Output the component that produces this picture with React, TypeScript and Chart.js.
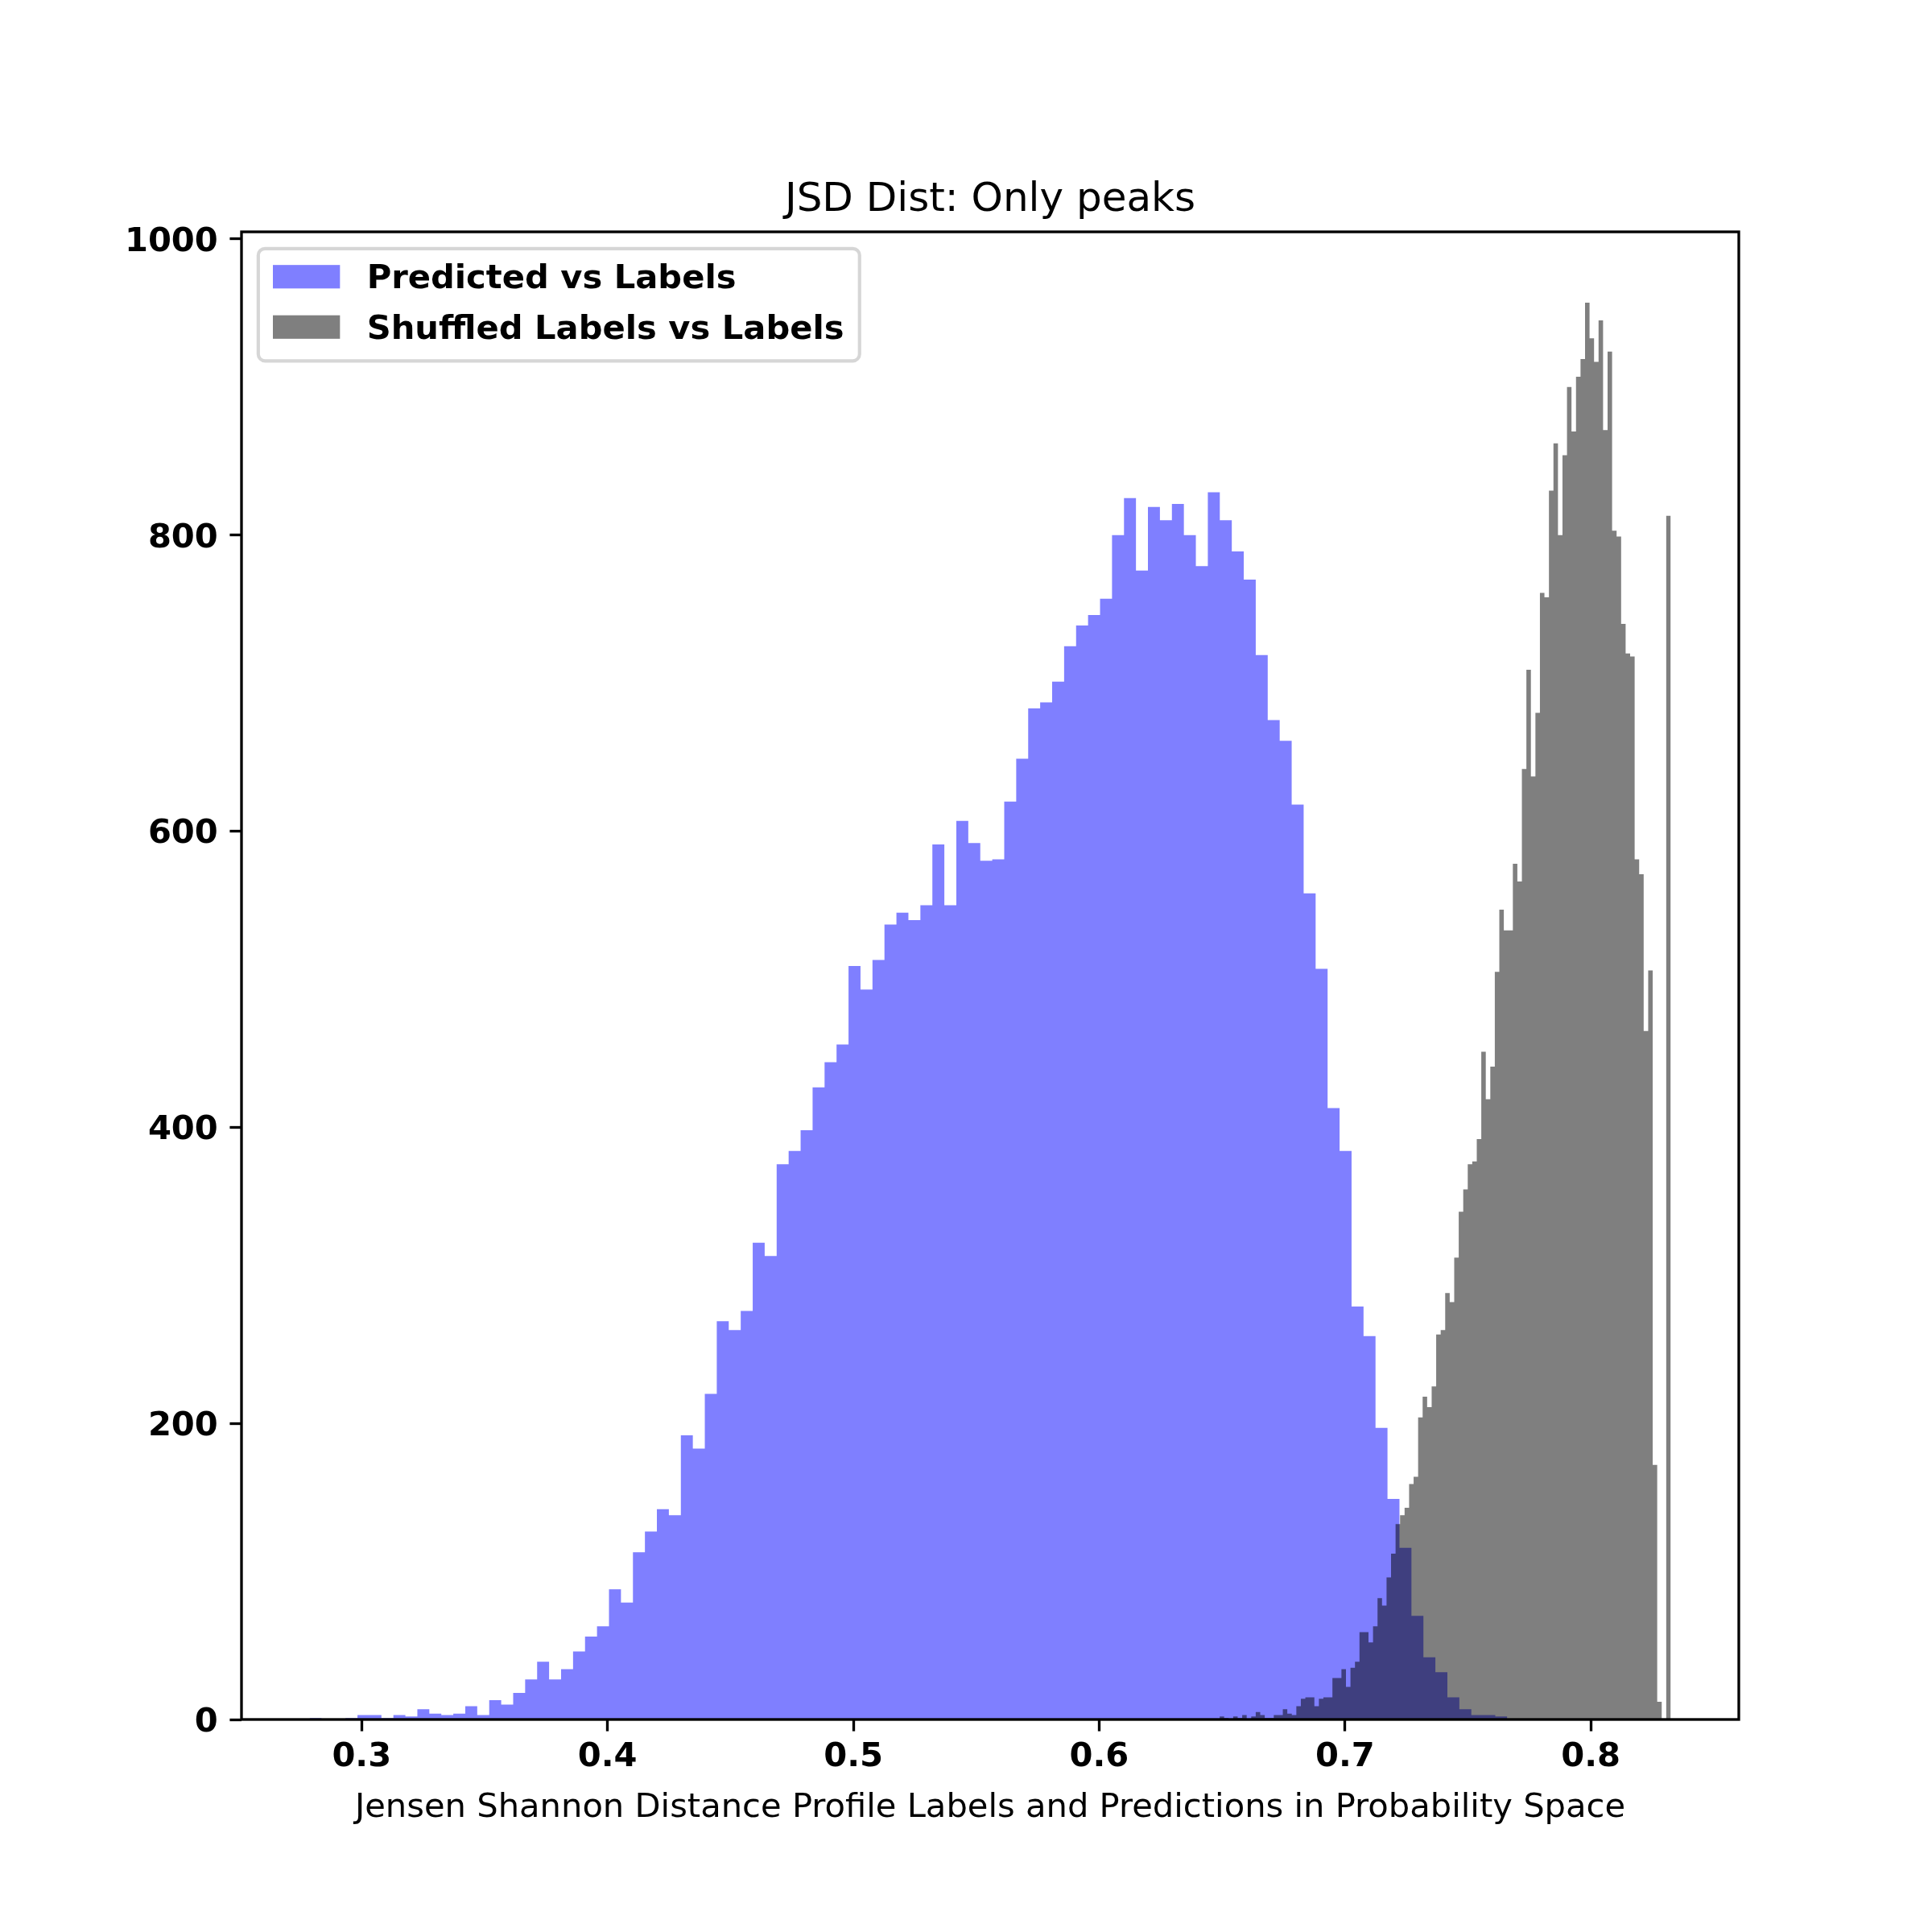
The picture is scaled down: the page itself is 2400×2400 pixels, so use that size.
import React, { useEffect, useRef } from 'react';
import { Chart, registerables } from 'chart.js';

Chart.register(...registerables);

// ---------------- data ----------------
const seriesLabels = ['Predicted vs Labels', 'Shuffled Labels vs Labels'];

// 100 equal-width bins between the two range values
const predictedBinRange = [0.2788, 0.766];
const predictedCounts = [
  1, 0, 0, 1, 3, 3, 1, 3, 2, 7,
  4, 3, 4, 9, 3, 13, 10, 18, 27, 39,
  27, 34, 46, 56, 63, 88, 79, 113, 127, 142,
  138, 192, 183, 220, 269, 263, 276, 322, 313, 375,
  384, 398, 427, 444, 456, 509, 493, 513, 537, 545,
  540, 550, 591, 550, 607, 592, 580, 581, 620, 649,
  683, 687, 701, 725, 739, 746, 757, 800, 825, 776,
  819, 810, 821, 800, 779, 829, 810, 789, 770, 719,
  675, 661, 618, 558, 507, 413, 384, 279, 259, 197,
  149, 116, 70, 42, 32, 15, 7, 3, 3, 2,
];

const shuffledBinRange = [0.649, 0.8325];
const shuffledCounts = [
  2, 1, 0, 2, 1, 3, 0, 2, 5, 3,
  1, 1, 3, 3, 7, 4, 3, 9, 14, 15,
  15, 9, 14, 15, 15, 28, 28, 34, 22, 35,
  39, 59, 59, 52, 63, 82, 77, 96, 112, 132,
  138, 143, 159, 164, 204, 218, 211, 225, 260, 263,
  288, 282, 312, 343, 358, 375, 377, 392, 451, 419,
  441, 505, 547, 533, 533, 578, 566, 642, 709, 637,
  680, 761, 758, 830, 862, 800, 854, 900, 870, 907,
  919, 957, 933, 917, 945, 871, 924, 803, 799, 740,
  720, 718, 581, 571, 465, 506, 172, 12, 0, 813,
];

const xTickValues = [0.3, 0.4, 0.5, 0.6, 0.7, 0.8];
const yTickValues = [0, 200, 400, 600, 800, 1000];

const titleText = 'JSD Dist: Only peaks';
const xAxisLabel = 'Jensen Shannon Distance Profile Labels and Predictions in Probability Space';

// ---------------- helpers ----------------
function histogramSteps(counts: number[], range: number[]) {
  const [lo, hi] = range;
  const n = counts.length;
  const w = (hi - lo) / n;
  const pts = counts.map((c, i) => ({ x: lo + w * i, y: c }));
  pts.push({ x: hi, y: counts[n - 1] });
  return pts;
}

const PT = 300 / 72; // px per point
const FAMILY = '"DejaVu Sans"';
const TICK_FS = 10 * PT;
const TITLE_FS = 12 * PT;

const dataMin = Math.min(predictedBinRange[0], shuffledBinRange[0]);
const dataMax = Math.max(predictedBinRange[1], shuffledBinRange[1]);
const xSpan = dataMax - dataMin;
const xMin = dataMin - 0.05 * xSpan;
const xMax = dataMax + 0.05 * xSpan;
const yMax = Math.max(...predictedCounts, ...shuffledCounts) * 1.05;

const framePlugin = {
  id: 'mplFrame',
  afterDraw(chart: any) {
    const { ctx, chartArea: ca } = chart;
    ctx.save();
    // spines
    ctx.strokeStyle = '#000';
    ctx.lineWidth = 0.8 * PT;
    ctx.lineJoin = 'miter';
    ctx.strokeRect(ca.left, ca.top, ca.right - ca.left, ca.bottom - ca.top);

    // legend
    const fs = TICK_FS;
    ctx.font = `bold ${fs}px ${FAMILY}`;
    const textW = Math.max(...seriesLabels.map((t) => ctx.measureText(t).width));
    const left = ca.left + 0.5 * fs;
    const top = ca.top + 0.5 * fs;
    const borderPad = 0.4 * fs;
    const handleLen = 2.0 * fs;
    const handleH = 0.7 * fs;
    const handleTextPad = 0.8 * fs;
    const boxW = borderPad + handleLen + handleTextPad + textW + borderPad + 4;
    const boxH = 139.5;
    const r = 0.2 * fs;
    ctx.beginPath();
    ctx.moveTo(left + r, top);
    ctx.lineTo(left + boxW - r, top);
    ctx.arcTo(left + boxW, top, left + boxW, top + r, r);
    ctx.lineTo(left + boxW, top + boxH - r);
    ctx.arcTo(left + boxW, top + boxH, left + boxW - r, top + boxH, r);
    ctx.lineTo(left + r, top + boxH);
    ctx.arcTo(left, top + boxH, left, top + boxH - r, r);
    ctx.lineTo(left, top + r);
    ctx.arcTo(left, top, left + r, top, r);
    ctx.closePath();
    ctx.fillStyle = 'rgba(255,255,255,0.8)';
    ctx.fill();
    ctx.strokeStyle = 'rgba(204,204,204,0.8)';
    ctx.lineWidth = 1.0 * PT;
    ctx.stroke();

    const colors = ['rgba(0,0,255,0.5)', 'rgba(0,0,0,0.5)'];
    const baselines = [top + 49.5, top + 112];
    const hx = left + borderPad + 1.5;
    seriesLabels.forEach((label, i) => {
      ctx.fillStyle = colors[i];
      ctx.fillRect(hx, baselines[i] - handleH, handleLen, handleH);
      ctx.fillStyle = '#000';
      ctx.textAlign = 'left';
      ctx.textBaseline = 'alphabetic';
      ctx.fillText(label, hx + handleLen + handleTextPad, baselines[i]);
    });
    ctx.restore();
  },
};

export default function App() {
  const ref = useRef<HTMLCanvasElement | null>(null);

  useEffect(() => {
    if (!ref.current) return;
    const tickFont = { family: FAMILY, size: TICK_FS, weight: 'bold' as const };
    const chart = new Chart(ref.current, {
      type: 'line',
      data: {
        datasets: [
          {
            label: seriesLabels[0],
            data: histogramSteps(predictedCounts, predictedBinRange),
            stepped: true,
            fill: 'origin',
            backgroundColor: 'rgba(0,0,255,0.5)',
            borderColor: 'rgba(0,0,0,0)',
            borderWidth: 0,
            pointRadius: 0,
            order: 1,
          },
          {
            label: seriesLabels[1],
            data: histogramSteps(shuffledCounts, shuffledBinRange),
            stepped: true,
            fill: 'origin',
            backgroundColor: 'rgba(0,0,0,0.5)',
            borderColor: 'rgba(0,0,0,0)',
            borderWidth: 0,
            pointRadius: 0,
            order: 0,
          },
        ],
      } as any,
      options: {
        animation: false,
        responsive: false,
        devicePixelRatio: 1,
        events: [],
        layout: { padding: { left: 0, top: 0, right: 240, bottom: 0 } },
        plugins: {
          legend: { display: false },
          tooltip: { enabled: false },
          title: {
            display: true,
            fullSize: false,
            text: titleText,
            color: '#000',
            font: { family: FAMILY, size: TITLE_FS, weight: 'normal' },
            padding: { top: 219, bottom: 9 },
          },
        },
        scales: {
          x: {
            type: 'linear',
            min: xMin,
            max: xMax,
            afterBuildTicks: (s: any) => {
              s.ticks = xTickValues.map((v) => ({ value: v }));
            },
            afterFit: (s: any) => {
              s.height = 264;
            },
            grid: {
              display: true,
              drawOnChartArea: false,
              drawTicks: true,
              tickLength: 3.5 * PT,
              tickWidth: 0.8 * PT,
              tickColor: '#000',
            },
            border: { display: false },
            ticks: {
              color: '#000',
              font: tickFont,
              padding: 7.3,
              maxRotation: 0,
              autoSkip: false,
              callback: (v: any) => Number(v).toFixed(1),
            },
            title: {
              display: true,
              text: xAxisLabel,
              color: '#000',
              font: { family: FAMILY, size: TICK_FS, weight: 'normal' },
              padding: { top: 0, bottom: 128.5 },
            },
          },
          y: {
            type: 'linear',
            min: 0,
            max: yMax,
            afterBuildTicks: (s: any) => {
              s.ticks = yTickValues.map((v) => ({ value: v }));
            },
            afterFit: (s: any) => {
              s.width = 300;
            },
            grid: {
              display: true,
              drawOnChartArea: false,
              drawTicks: true,
              tickLength: 3.5 * PT,
              tickWidth: 0.8 * PT,
              tickColor: '#000',
            },
            border: { display: false },
            ticks: {
              color: '#000',
              font: tickFont,
              padding: 3.5 * PT,
              labelOffset: 4,
              autoSkip: false,
              callback: (v: any) => String(v),
            },
          },
        },
      } as any,
      plugins: [framePlugin],
    });
    return () => chart.destroy();
  }, []);

  return (
    <div style={{ position: 'absolute', left: 0, top: 0, width: 2400, height: 2400, background: '#fff' }}>
      <canvas ref={ref} width={2400} height={2400} style={{ display: 'block', width: 2400, height: 2400 }} />
    </div>
  );
}
